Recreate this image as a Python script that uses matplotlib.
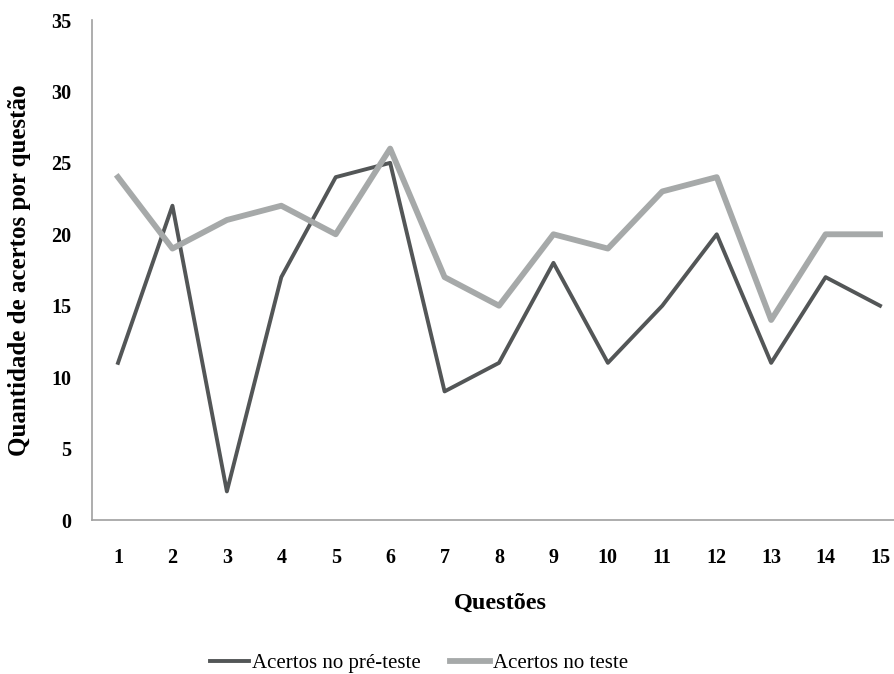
import matplotlib
matplotlib.use("Agg")
import matplotlib.pyplot as plt

questoes = list(range(1, 16))
pre_teste = [11, 22, 2, 17, 24, 25, 9, 11, 18, 11, 15, 20, 11, 17, 15]
teste = [24, 19, 21, 22, 20, 26, 17, 15, 20, 19, 23, 24, 14, 20, 20]
y_ticks = [0, 5, 10, 15, 20, 25, 30, 35]

plt.rcParams['font.family'] = ['Liberation Serif', 'DejaVu Serif']

fig = plt.figure(figsize=(8.95, 6.74), dpi=100)
ax = fig.add_axes([92/895, 154/674, (894-92)/895, 500/674])

ax.plot(questoes, pre_teste, color='#535657', lw=2.8, label='Acertos no pré-teste',
        solid_joinstyle='round')
ax.plot(questoes, teste, color='#a6a9a9', lw=4.2, label='Acertos no teste',
        solid_joinstyle='round')

ax.set_xlim(0.522, 15.257)
ax.set_ylim(0, 35)
ax.set_xticks(questoes)
ax.set_xticklabels([str(q) for q in questoes])
ax.set_yticks(y_ticks)
ax.tick_params(length=0, labelsize=14.5)
ax.tick_params(axis='x', pad=20)
ax.tick_params(axis='y', pad=15)
for lab in ax.get_xticklabels() + ax.get_yticklabels():
    lab.set_fontweight('bold')

for s in ['top', 'right']:
    ax.spines[s].set_visible(False)
for s in ['left', 'bottom']:
    ax.spines[s].set_color('#a0a0a0')
    ax.spines[s].set_linewidth(1.2)

ax.set_xlabel('Questões', fontsize=17.5, fontweight='bold')
ax.set_ylabel('Quantidade de acertos por questão', fontsize=18, fontweight='bold')
ax.xaxis.label.set_va('center')
ax.yaxis.label.set_va('center')
ax.xaxis.set_label_coords((500 - 92) / 802, (520 - 603) / 500)
ax.yaxis.set_label_coords((20 - 92) / 802, 0.5)

fig.legend(loc='center', bbox_to_anchor=(419/895, 1 - 663/674), ncol=2, frameon=False,
           fontsize=15, handlelength=1.9, handletextpad=0.15, columnspacing=1.4)

fig.savefig('out.png', dpi=100)
